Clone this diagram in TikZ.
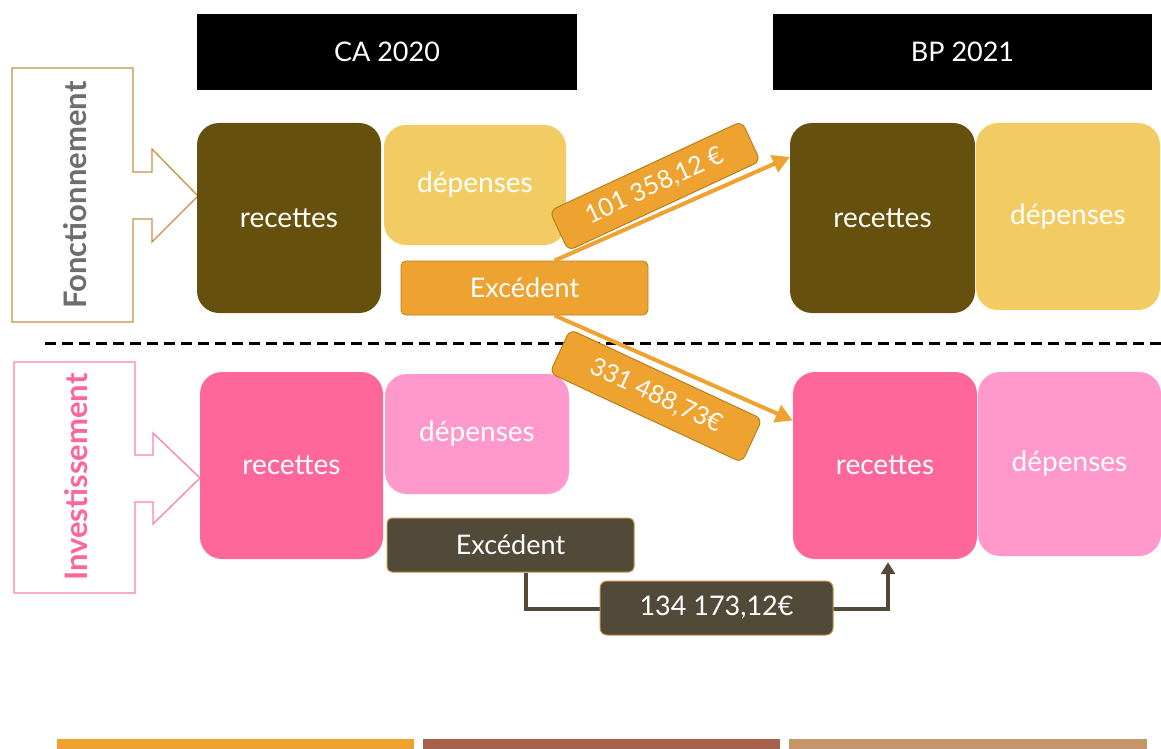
\documentclass[tikz,border=0pt]{standalone}
\usepackage{fontspec}
\setmainfont{Lato}
\usetikzlibrary{arrows.meta}
\definecolor{cbrown}{HTML}{66500E}
\definecolor{cyellow}{HTML}{F2CC63}
\definecolor{corange}{HTML}{EEA230}
\definecolor{corangeline}{HTML}{B7801F}
\definecolor{cpink}{HTML}{FF6699}
\definecolor{clpink}{HTML}{FF99CC}
\definecolor{cdark}{HTML}{524A39}
\definecolor{ccallout}{HTML}{C89145}
\definecolor{cpinkline}{HTML}{FF80AA}
\definecolor{cgray}{HTML}{6E6E6E}
\definecolor{cbar1}{HTML}{EEA32F}
\definecolor{cbar2}{HTML}{A5614B}
\definecolor{cbar3}{HTML}{C4966A}
\tikzset{
  header/.style={fill=black,text=white,inner sep=0pt,font=\fontsize{27}{29}\selectfont},
  bigbox/.style={rounded corners=22pt,inner sep=0pt,text=white,font=\fontsize{28}{30}\selectfont},
  excbox/.style={rounded corners=5pt,inner sep=0pt,text=white,font=\fontsize{27}{29}\selectfont},
  amount/.style={rounded corners=7pt,inner sep=0pt,text=white,fill=corange,draw=corangeline,line width=1pt,font=\fontsize{25}{27}\selectfont},
  oarrow/.style={draw=corange,line width=4pt,-{Triangle[length=17pt,width=18pt]}},
  darrow/.style={draw=cdark,line width=4pt},
  callout/.style={line width=1.3pt,fill=white},
}
\begin{document}
\begin{tikzpicture}[x=1pt,y=-1pt]
\useasboundingbox (0,0) rectangle (1161,749);
% headers
\node[header,minimum width=380pt,minimum height=76pt] (ca) at (387,52) {CA 2020};
\node[header,minimum width=379pt,minimum height=76pt] (bp) at (962.5,52) {BP 2021};
% callouts
\draw[callout,draw=ccallout] (12,68) -- (133,68) -- (133,172) -- (152,172) -- (152,149) -- (198,196) -- (152,242) -- (152,219) -- (133,219) -- (133,322) -- (12,322) -- cycle;
\node[rotate=90,text=cgray,font=\bfseries\fontsize{31}{33}\selectfont] (fonct) at (75,195) {Fonctionnement};
\draw[callout,draw=cpinkline] (14,362) -- (135,362) -- (135,455) -- (153,455) -- (153,433) -- (200,478) -- (153,524) -- (153,502) -- (135,502) -- (135,593) -- (14,593) -- cycle;
\node[rotate=90,text=cpink,font=\bfseries\fontsize{31}{33}\selectfont] (invest) at (76,477) {Investissement};
% fonctionnement boxes
\node[bigbox,fill=cbrown,minimum width=184pt,minimum height=190pt] (recCAf) at (289,218) {recettes};
\node[bigbox,fill=cyellow,minimum width=182pt,minimum height=120pt] (depCAf) at (475,185) {dépenses};
\node[bigbox,fill=cbrown,minimum width=185pt,minimum height=190pt] (recBPf) at (882.5,218) {recettes};
\node[bigbox,fill=cyellow,minimum width=184pt,minimum height=187pt] (depBPf) at (1068,216.5) {dépenses};
% invest boxes
\node[bigbox,fill=cpink,minimum width=183pt,minimum height=187pt] (recCAi) at (291.5,465.5) {recettes};
\node[bigbox,fill=clpink,minimum width=184pt,minimum height=120pt] (depCAi) at (477,434) {dépenses};
\node[bigbox,fill=cpink,minimum width=184pt,minimum height=187pt] (recBPi) at (885,465.5) {recettes};
\node[bigbox,fill=clpink,minimum width=183pt,minimum height=184pt] (depBPi) at (1069.5,464) {dépenses};
% dashed separator
\coordinate (dl) at (45,343);
\coordinate (dr) at (1161,343);
\draw[line width=3pt,dash pattern=on 11pt off 6pt] (dl) -- (dr);
% excedent fonctionnement
\node[excbox,fill=corange,draw=corangeline,line width=0.8pt,minimum width=247pt,minimum height=54pt] (exf) at (524.5,288) {Excédent};
\draw[oarrow] ([xshift=30pt]exf.north) -- ([yshift=61pt]recBPf.west);
\draw[oarrow] ([xshift=30pt]exf.south) -- ([yshift=45pt]recBPi.west);
\node[amount,rotate=25,minimum width=212pt,minimum height=44pt] (am1) at (655,186) {101 358,12 €};
\node[amount,rotate=-25,minimum width=212pt,minimum height=48pt] (am2) at (656,396) {331 488,73€};
% excedent invest
\node[excbox,fill=cdark,draw=ccallout,line width=1pt,minimum width=247pt,minimum height=54pt] (exi) at (510.5,545) {Excédent};
\draw[darrow] ([xshift=15pt]exi.south) |- (716,609);
\draw[darrow,-{Triangle[length=12pt,width=14pt]}] (716,609) -| ([xshift=3pt,yshift=-3pt]recBPi.south);
\node[excbox,rounded corners=7pt,fill=cdark,draw=ccallout,line width=1pt,minimum width=233pt,minimum height=54pt] (am3) at (716.5,608) {134 173,12€};
% bottom bars
\fill[cbar1] (57,739) rectangle (414,749);
\fill[cbar2] (423,739) rectangle (780,749);
\fill[cbar3] (789,739) rectangle (1147,749);
\end{tikzpicture}
\end{document}
